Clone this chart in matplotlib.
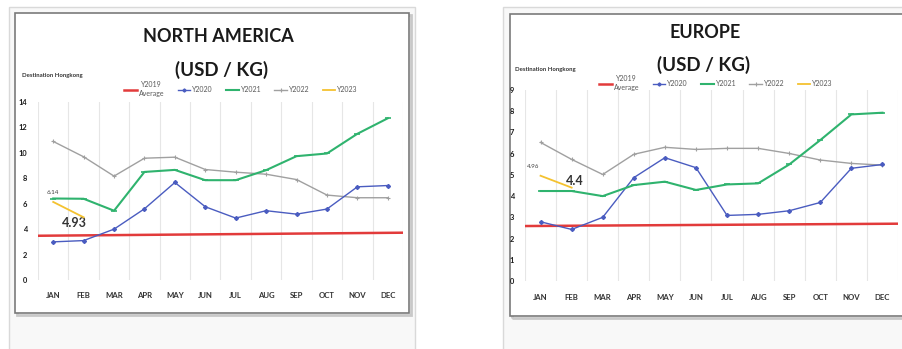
import numpy as np
import matplotlib
matplotlib.use('Agg')
import matplotlib.pyplot as plt
from matplotlib.patches import Rectangle

# DATA
months = ['JAN', 'FEB', 'MAR', 'APR', 'MAY', 'JUN', 'JUL', 'AUG', 'SEP', 'OCT', 'NOV', 'DEC']

na_avg2019 = [3.48, 3.72]   # start / end of the 2019 average line
na_y2020 = [3.0, 3.1, 4.0, 5.6, 7.67, 5.76, 4.87, 5.45, 5.18, 5.58, 7.33, 7.43]
na_y2021 = [6.41, 6.39, 5.45, 8.5, 8.66, 7.85, 7.85, 8.64, 9.74, 9.95, 11.5, 12.72]
na_y2022 = [10.9, 9.69, 8.17, 9.58, 9.66, 8.69, 8.48, 8.32, 7.9, 6.68, 6.47, 6.47]
na_y2023 = [6.14, 4.93]

eu_avg2019 = [2.59, 2.7]
eu_y2020 = [2.79, 2.43, 3.0, 4.87, 5.81, 5.34, 3.09, 3.14, 3.31, 3.7, 5.31, 5.49]
eu_y2021 = [4.24, 4.24, 4.0, 4.52, 4.68, 4.29, 4.55, 4.6, 5.49, 6.64, 7.85, 7.93]
eu_y2022 = [6.53, 5.73, 5.02, 5.97, 6.3, 6.2, 6.25, 6.25, 6.01, 5.7, 5.54, 5.46]
eu_y2023 = [4.96, 4.4]

W, H = 903, 349
fig = plt.figure(figsize=(W / 100, H / 100), dpi=100)
fig.patch.set_facecolor('white')

FONT = 'Lato'
C_RED = '#e23b3b'
C_BLUE = '#4a5cc0'
C_GREEN = '#2fb36e'
C_GRAY = '#a0a0a0'
C_YEL = '#f4c230'


def box(x0, y0, x1, y1, **kw):
    # rectangle in pixel coords (top-left origin), kept behind the axes
    r = Rectangle((x0 / W, 1 - y1 / H), (x1 - x0) / W, (y1 - y0) / H,
                  transform=fig.transFigure, zorder=-5, **kw)
    fig.patches.append(r)


def ftext(x, y, s, **kw):
    fig.text(x / W, 1 - y / H, s, **kw)


# cards and chart frames
box(9, 7, 415, 360, facecolor='#f8f8f8', edgecolor='#d9d9d9', lw=1.0)
box(503, 7, 920, 360, facecolor='#f8f8f8', edgecolor='#d9d9d9', lw=1.0)
box(17, 15, 411, 315, facecolor='none', edgecolor='#c8c8c8', lw=2.0)
box(15, 13, 409, 313, facecolor='white', edgecolor='#7a7a7a', lw=1.2)
box(512, 16, 920, 318, facecolor='none', edgecolor='#c8c8c8', lw=2.0)
box(510, 14, 920, 316, facecolor='white', edgecolor='#7a7a7a', lw=1.2)


def make_panel(rect_px, ymax, avg, y20, y21, y22, y23, lbl23, title, title_pos, dest_xy, leg_xy):
    x0, y0, x1, y1 = rect_px
    ax = fig.add_axes([x0 / W, 1 - y1 / H, (x1 - x0) / W, (y1 - y0) / H])
    ax.set_facecolor('none')
    x = np.arange(len(months))
    ax.plot([-0.5, 11.5], avg, color=C_RED, lw=1.8, label='Y2019\nAverage', zorder=3)
    ax.plot(x, y20, color=C_BLUE, lw=1.0, marker='D', ms=2.0, label='Y2020', zorder=4)
    ax.plot(x, y21, color=C_GREEN, lw=1.5, marker='_', ms=4, mew=1.2, label='Y2021', zorder=4)
    ax.plot(x, y22, color=C_GRAY, lw=1.0, marker='+', ms=3, mew=0.8, label='Y2022', zorder=2)
    ax.plot(x[:len(y23)], y23, color=C_YEL, lw=1.3, label='Y2023', zorder=5)

    ax.set_xlim(-0.5, 11.5)
    ax.set_ylim(0, ymax)
    ax.set_xticks(x)
    ax.set_xticklabels(months)
    ax.set_yticks(range(0, ymax + 1, 1 if ymax < 10 else 2))
    ax.set_xticks(np.arange(-0.5, 12, 1), minor=True)
    ax.grid(True, which='minor', axis='x', color='#e6e6e6', lw=0.8)
    ax.tick_params(which='both', length=0)
    ax.tick_params(axis='x', pad=9, labelsize=5.6, colors='#333333')
    ax.tick_params(axis='y', pad=8, labelsize=5.4, colors='#1a1a1a')
    for lab in ax.get_xticklabels() + ax.get_yticklabels():
        lab.set_fontweight('bold')
        lab.set_family(FONT)
    for s in ax.spines.values():
        s.set_visible(False)

    # data labels for Y2023
    o1, o2 = lbl23
    ax.annotate(f'{y23[0]:g}', xy=(0, y23[0]), xytext=o1, textcoords='offset points',
                ha='center', va='center', fontsize=4.5, family=FONT, color='#404040')
    ax.annotate(f'{y23[1]:g}', xy=(1, y23[1]), xytext=o2, textcoords='offset points',
                ha='center', va='center', fontsize=9, fontweight='bold', family=FONT,
                color='#333333')

    tx1, ty1, tx2, ty2 = title_pos
    ftext(tx1, ty1, title, ha='center', va='center', fontsize=13, fontweight='bold',
          family=FONT, color='#1a1a1a')
    ftext(tx2, ty2, '(USD / KG)', ha='center', va='center', fontsize=13.5, fontweight='bold',
          family=FONT, color='#1a1a1a')
    ftext(dest_xy[0], dest_xy[1], 'Destination Hongkong', ha='left', va='center',
          fontsize=4.3, fontweight='bold', family=FONT, color='#333333')

    leg = ax.legend(loc='center', bbox_to_anchor=(leg_xy[0] / W, 1 - leg_xy[1] / H),
                    bbox_transform=fig.transFigure, ncol=5, frameon=False,
                    prop={'family': FONT, 'size': 5.0}, handlelength=1.8,
                    handletextpad=0.3, columnspacing=1.9, markerscale=0.8)
    for t in leg.get_texts():
        t.set_color('#595959')
        t.set_multialignment('center')
    return ax


make_panel((38, 102, 403, 280), 14, na_avg2019, na_y2020, na_y2021, na_y2022, na_y2023,
           ((0, 6.5), (-7, -4)), 'NORTH AMERICA', (218, 37, 222, 70),
           (22, 75), (241, 89))
make_panel((525, 90, 898, 281), 9, eu_avg2019, eu_y2020, eu_y2021, eu_y2022, eu_y2023,
           ((-5, 6.5), (2, 5)), 'EUROPE', (705, 32, 704, 65),
           (515, 69), (716, 83))

fig.savefig('out.png', dpi=100)
